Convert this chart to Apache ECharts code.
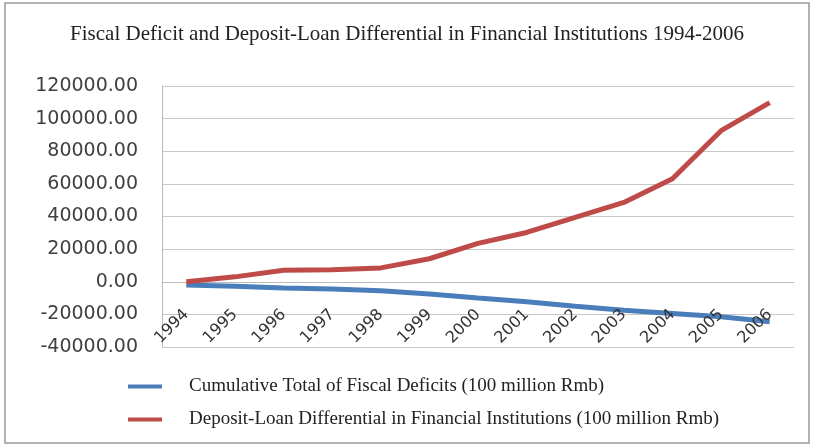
<!DOCTYPE html>
<html><head><meta charset="utf-8">
<script src="https://cdn.jsdelivr.net/npm/echarts@6/dist/echarts.min.js"></script>
<style>html,body{margin:0;padding:0;background:#fff}#c{width:814px;height:448px}</style>
</head><body><div id="c"></div>
<script>
const years = ['1994','1995','1996','1997','1998','1999','2000','2001','2002','2003','2004','2005','2006'];
const fiscalDeficits = [-2000,-2800,-3800,-4500,-5500,-7500,-10000,-12200,-15000,-17500,-19500,-21500,-24500];
const depositLoanDiff = [0,3000,7000,7300,8500,14100,23500,30200,39500,48600,63200,92600,109800];
const yTicks = {min:-40000, max:120000, interval:20000};
const titleText = 'Fiscal Deficit and Deposit-Loan Differential in Financial Institutions 1994-2006';
const seriesNames = ['Cumulative Total of Fiscal Deficits (100 million Rmb)','Deposit-Loan Differential in Financial Institutions (100 million Rmb)'];

const chart = echarts.init(document.getElementById('c'));
chart.setOption({
  animation:false,
  backgroundColor:'#fff',
  title:{text:titleText,left:'center',top:19,textStyle:{fontFamily:'Liberation Serif',fontSize:21,fontWeight:'normal',color:'#222'}},
  graphic:[{type:'rect',shape:{x:5,y:3,width:804,height:440},style:{fill:'none',stroke:'#999',lineWidth:1.5}}],
  grid:[
    {left:162,right:20,top:86,bottom:101,containLabel:false},
    {left:162,right:20,top:86,bottom:167,containLabel:false}
  ],
  legend:{orient:'vertical',left:123,top:372,itemGap:14,itemWidth:34,itemHeight:4,
    icon:'rect',
    textStyle:{fontFamily:'Liberation Serif',fontSize:19,color:'#222',padding:[0,0,0,22]},
    data:seriesNames},
  xAxis:[
    {type:'category',gridIndex:0,data:years,boundaryGap:true,
      axisLine:{onZero:true,lineStyle:{color:'#bbb'}},
      axisTick:{show:false},axisLabel:{show:false}},
    {type:'category',gridIndex:1,data:years,boundaryGap:true,position:'bottom',z:5,
      axisLine:{show:false},axisTick:{show:false},splitLine:{show:false},
      axisLabel:{rotate:45,fontFamily:'DejaVu Sans',fontSize:16,color:'#333',margin:31,interval:0}}
  ],
  yAxis:[
    {type:'value',gridIndex:0,min:yTicks.min,max:yTicks.max,interval:yTicks.interval,
      axisLine:{show:true,lineStyle:{color:'#bbb'}},
      axisTick:{show:false},
      splitLine:{lineStyle:{color:'#c8c8c8',width:1.2}},
      axisLabel:{formatter:v=>v.toFixed(2),fontFamily:'DejaVu Sans',fontSize:19,color:'#404040',margin:24}},
    {type:'value',gridIndex:1,min:0,max:1,show:false,splitLine:{show:false}}
  ],
  series:[
    {name:seriesNames[0],type:'line',data:fiscalDeficits,symbol:'none',lineStyle:{width:5,color:'#4a7ebb'},itemStyle:{color:'#4a7ebb'}},
    {name:seriesNames[1],type:'line',data:depositLoanDiff,symbol:'none',lineStyle:{width:5,color:'#be4b48'},itemStyle:{color:'#be4b48'}}
  ]
});
</script></body></html>
